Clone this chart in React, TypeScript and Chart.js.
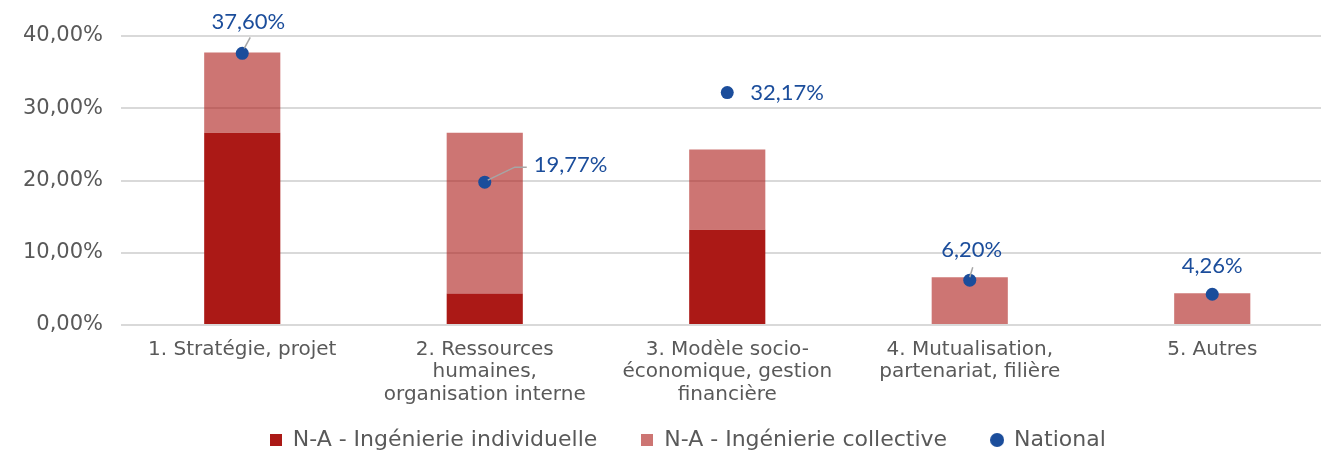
import React, { useEffect, useRef } from "react";
import { Chart, registerables } from "chart.js";

Chart.register(...registerables);

// ---- data ----
const categories: string[][] = [
  ["1. Stratégie, projet"],
  ["2. Ressources", "humaines,", "organisation interne"],
  ["3. Modèle socio-", "économique, gestion", "financière"],
  ["4. Mutualisation,", "partenariat, filière"],
  ["5. Autres"],
];
const seriesNames = [
  "N-A - Ingénierie individuelle",
  "N-A - Ingénierie collective",
  "National",
];
const individuelle = [26.6, 4.35, 13.2, 0, 0];
const collective = [11.1, 22.25, 11.1, 6.6, 4.4];
const national = [37.6, 19.77, 32.17, 6.2, 4.26];
const yTicks = [0, 10, 20, 30, 40];

// ---- styles ----
const DARK = "#AB1916";
const LIGHT = "rgba(171,25,22,0.6)";
const BLUE = "#1B4D9B";
const GREY_TEXT = "#595959";
const LEGEND_SHIFT = 21;

// label placement relative to each national point (style only)
const labelPlacement = [
  { dx: 6, dy: -31, align: "center", leader: [[2, -5], [8, -16]] },
  { dx: 49, dy: -17, align: "left", leader: [[3, -2], [30, -15], [42, -15]] },
  { dx: 23, dy: 0, align: "left", leader: null },
  { dx: 2, dy: -30, align: "center", leader: [[0, -3], [3, -13]] },
  { dx: 0, dy: -28, align: "center", leader: null },
];

const fmt = (v: number) => v.toFixed(2).replace(".", ",") + "%";

function makeIcon(kind: "rect" | "circle", color: string, size: number) {
  const c = document.createElement("canvas");
  c.width = size;
  c.height = size;
  const ctx = c.getContext("2d")!;
  ctx.fillStyle = color;
  if (kind === "rect") {
    ctx.fillRect(0, 0, size, size);
  } else {
    ctx.beginPath();
    ctx.arc(size / 2, size / 2, size / 2, 0, Math.PI * 2);
    ctx.fill();
  }
  return c;
}

const nationalLabels = {
  id: "nationalLabels",
  afterLayout(chart: any) {
    if (chart.legend) {
      chart.legend.left += LEGEND_SHIFT;
      chart.legend.right += LEGEND_SHIFT;
    }
  },
  afterDatasetsDraw(chart: any) {
    const meta = chart.getDatasetMeta(2);
    const ctx = chart.ctx;
    ctx.save();
    meta.data.forEach((pt: any, i: number) => {
      const p = labelPlacement[i];
      const x = pt.x;
      const y = pt.y;
      if (p.leader) {
        ctx.beginPath();
        ctx.strokeStyle = "#A6A6A6";
        ctx.lineWidth = 1.5;
        ctx.moveTo(x + p.leader[0][0], y + p.leader[0][1]);
        for (let k = 1; k < p.leader.length; k++) {
          ctx.lineTo(x + p.leader[k][0], y + p.leader[k][1]);
        }
        ctx.stroke();
      }
      ctx.font = "22px Lato";
      ctx.fillStyle = BLUE;
      ctx.textAlign = p.align;
      ctx.textBaseline = "middle";
      ctx.fillText(fmt(national[i]), x + p.dx, y + p.dy);
    });
    ctx.restore();
  },
};

export default function App() {
  const ref = useRef<HTMLCanvasElement | null>(null);

  useEffect(() => {
    if (!ref.current) return;
    const icons = [
      makeIcon("rect", DARK, 12),
      makeIcon("rect", "#CD7573", 12),
      makeIcon("circle", BLUE, 14),
    ];
    const chart = new Chart(ref.current, {
      type: "bar",
      data: {
        labels: categories,
        datasets: [
          {
            type: "bar",
            label: seriesNames[0],
            data: individuelle,
            backgroundColor: DARK,
            stack: "na",
            categoryPercentage: 1,
            barPercentage: 0.314,
            order: 1,
          },
          {
            type: "bar",
            label: seriesNames[1],
            data: collective,
            backgroundColor: LIGHT,
            stack: "na",
            categoryPercentage: 1,
            barPercentage: 0.314,
            order: 1,
          },
          {
            type: "line",
            label: seriesNames[2],
            data: national,
            showLine: false,
            stack: "nat",
            pointRadius: 6.5,
            pointHoverRadius: 6.5,
            pointBackgroundColor: BLUE,
            pointBorderWidth: 0,
            borderColor: BLUE,
            backgroundColor: BLUE,
            clip: false as any,
            order: 0,
          } as any,
        ],
      },
      options: {
        responsive: false,
        animation: false,
        layout: { padding: { top: 36, right: 11.5, left: 0, bottom: -8 } },
        scales: {
          x: {
            stacked: true,
            grid: { display: false, drawTicks: false },
            border: { display: false },
            afterFit: (scale: any) => {
              scale.height = 60;
            },
            ticks: {
              color: GREY_TEXT,
              font: { family: "'DejaVu Sans'", size: 20, lineHeight: 1.14 },
              padding: -35.7,
              mirror: true,
              maxRotation: 0,
              autoSkip: false,
            },
          },
          y: {
            stacked: true,
            min: 0,
            max: 40,
            afterBuildTicks: (scale: any) => {
              scale.ticks = yTicks.map((v) => ({ value: v }));
            },
            afterFit: (scale: any) => {
              scale.width = 121;
            },
            grid: { color: "#D9D9D9", lineWidth: 2, drawTicks: false },
            border: { display: false },
            ticks: {
              color: GREY_TEXT,
              font: { family: "'DejaVu Sans'", size: 21 },
              padding: 18,
              callback: (v: any) => fmt(Number(v)),
            },
          },
        },
        plugins: {
          tooltip: { enabled: false },
          legend: {
            position: "bottom",
            labels: {
              usePointStyle: true,
              boxWidth: 12,
              boxHeight: 12,
              padding: 44,
              color: GREY_TEXT,
              font: { family: "'DejaVu Sans'", size: 22 },
              sort: (a: any, b: any) => a.datasetIndex - b.datasetIndex,
              generateLabels: (c: any) => {
                const items = (Chart.defaults.plugins.legend.labels as any).generateLabels(c);
                items.forEach((it: any) => {
                  it.pointStyle = icons[it.datasetIndex];
                });
                return items;
              },
            },
          },
        },
      },
      plugins: [nationalLabels],
    } as any);
    return () => chart.destroy();
  }, []);

  return (
    <div
      style={{
        position: "fixed",
        left: 0,
        top: 0,
        width: 1321,
        height: 453,
        overflow: "hidden",
        background: "#fff",
      }}
    >
      <canvas ref={ref} width={1345} height={453} style={{ display: "block" }} />
    </div>
  );
}
